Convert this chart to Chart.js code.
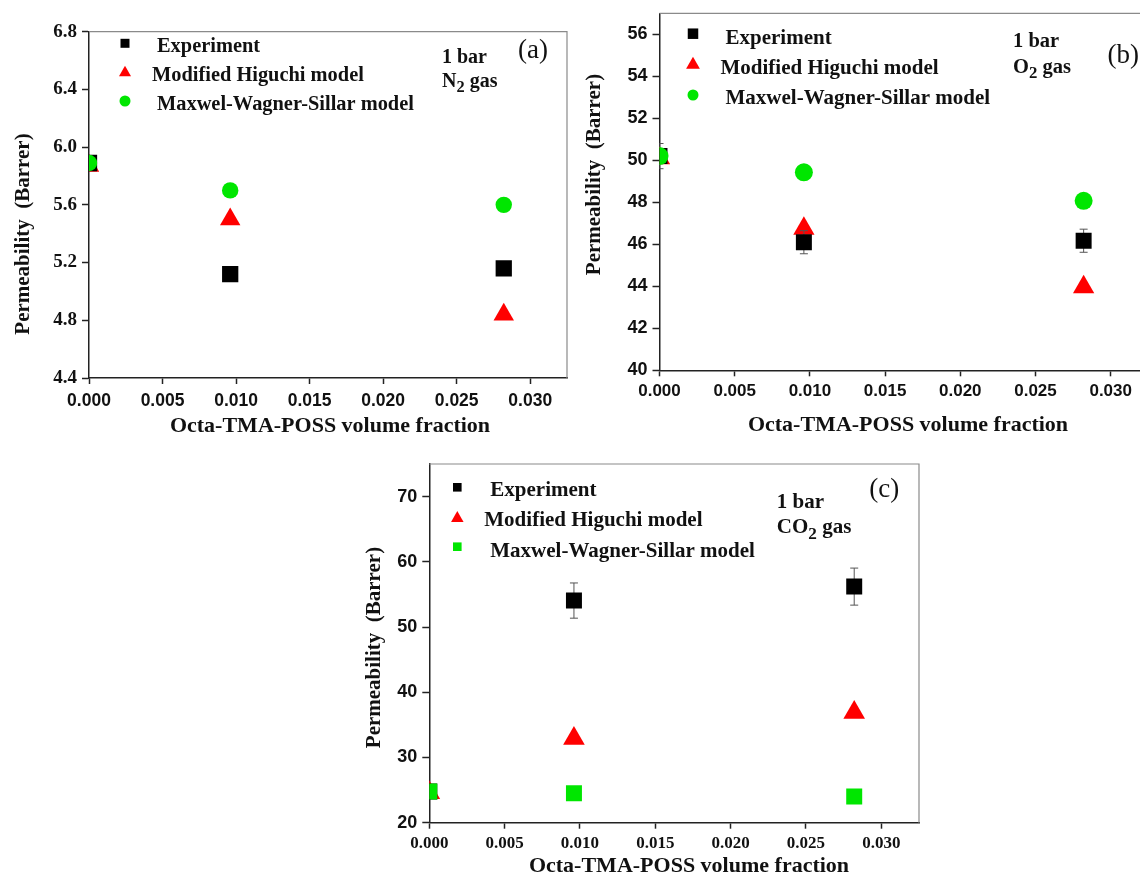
<!DOCTYPE html>
<html>
<head>
<meta charset="utf-8">
<title>Permeability vs Octa-TMA-POSS volume fraction</title>
<script src="https://cdn.jsdelivr.net/npm/chart.js@4.4.1/dist/chart.umd.min.js"></script>
<style>
  html, body { margin: 0; padding: 0; background: #fff; overflow: hidden; }
  #page { position: relative; width: 1140px; height: 876px; overflow: hidden; }
  #page canvas { position: absolute; }
</style>
</head>
<body>
<div id="page">
  <canvas id="chartN2" width="570" height="440" style="left:0;top:0"></canvas>
  <canvas id="chartO2" width="600" height="440" style="left:570px;top:0"></canvas>
  <canvas id="chartCO2" width="600" height="440" style="left:340px;top:436px"></canvas>
</div>
<script>
// Data
const seriesNames = ['Experiment', 'Modified Higuchi model', 'Maxwel-Wagner-Sillar model'];
const volumeFraction = [0, 0.0096, 0.0282];
const xTickValues = [0, 0.005, 0.010, 0.015, 0.020, 0.025, 0.030];

// (a) N2
const n2Experiment = [5.89, 5.12, 5.16];
const n2ExperimentErr = [0.04, 0.04, 0.04];
const n2Higuchi = [5.87, 5.50, 4.84];
const n2Maxwell = [5.89, 5.70, 5.60];
const n2Ticks = [4.4, 4.8, 5.2, 5.6, 6.0, 6.4, 6.8];

// (b) O2
const o2Experiment = [50.2, 46.1, 46.17];
const o2ExperimentErr = [0.6, 0.55, 0.55];
const o2Higuchi = [50.1, 46.75, 43.96];
const o2Maxwell = [50.2, 49.43, 48.07];
const o2Ticks = [40, 42, 44, 46, 48, 50, 52, 54, 56];

// (c) CO2
const co2Experiment = [24.8, 54.06, 56.2];
const co2ExperimentErr = [1.0, 2.7, 2.84];
const co2Higuchi = [24.6, 32.9, 36.9];
const co2Maxwell = [24.8, 24.5, 24.0];
const co2Ticks = [20, 30, 40, 50, 60, 70];

const SERIF = '"Liberation Serif", "Times New Roman", serif';
const SANS = '"Liberation Sans", Arial, sans-serif';
const AXIS_COLOR = '#222';
const FRAME_COLOR = '#8a8a8a';
const ERR_COLOR = '#555';
const COLORS = ['#000000', '#ff0000', '#00e600'];
const DRAW_ORDER = [1, 2, 0]; // green on top, red at the bottom
const TEXT_DY = 2; // canvas 'middle' sits a little above the cap centre

function drawMarker(ctx, style, x, y, size, color) {
  ctx.fillStyle = color;
  ctx.beginPath();
  if (style === 'rect') {
    ctx.rect(x - size / 2, y - size / 2, size, size);
  } else if (style === 'triangle') {
    const h = size * 0.866;
    ctx.moveTo(x, y - h * 2 / 3);
    ctx.lineTo(x + size / 2, y + h / 3);
    ctx.lineTo(x - size / 2, y + h / 3);
    ctx.closePath();
  } else {
    ctx.arc(x, y, size / 2, 0, Math.PI * 2);
  }
  ctx.fill();
}

// Text made of pieces, some of them subscripts (N2, O2, CO2)
function drawRichText(ctx, parts, x, y, size) {
  let cx = x;
  parts.forEach(([txt, sub]) => {
    ctx.font = 'bold ' + (sub ? size * 0.82 : size) + 'px ' + SERIF;
    ctx.fillText(txt, cx, sub ? y + size * 0.3 : y);
    cx += ctx.measureText(txt).width;
  });
}

const panelDecor = {
  id: 'panelDecor',
  beforeDatasetDraw(chart, args) {
    const ds = chart.data.datasets[args.index];
    if (!ds.errorBars) return;
    const { ctx, chartArea: a, scales: { x, y } } = chart;
    ctx.save();
    ctx.beginPath();
    ctx.rect(a.left, a.top, a.right - a.left, a.bottom - a.top);
    ctx.clip();
    ctx.strokeStyle = ERR_COLOR;
    ctx.lineWidth = 1;
    ds.data.forEach((p, i) => {
      const e = ds.errorBars[i];
      const px = x.getPixelForValue(p.x);
      const top = y.getPixelForValue(p.y + e);
      const bot = y.getPixelForValue(p.y - e);
      ctx.beginPath();
      ctx.moveTo(px, top); ctx.lineTo(px, bot);
      ctx.moveTo(px - 4, top); ctx.lineTo(px + 4, top);
      ctx.moveTo(px - 4, bot); ctx.lineTo(px + 4, bot);
      ctx.stroke();
    });
    ctx.restore();
  },
  afterDraw(chart, args, o) {
    const { ctx, chartArea: a } = chart;
    ctx.save();

    // top and right frame lines
    ctx.strokeStyle = FRAME_COLOR;
    ctx.lineWidth = 1.2;
    ctx.beginPath();
    ctx.moveTo(a.left, a.top);
    ctx.lineTo(a.right, a.top);
    ctx.lineTo(a.right, a.bottom);
    ctx.stroke();

    // legend inside the plot
    ctx.textAlign = 'left';
    ctx.textBaseline = 'middle';
    const L = o.legend;
    chart.data.datasets.forEach((ds, i) => {
      drawMarker(ctx, ds.pointStyle, a.left + L.markerX, a.top + L.markerY[i], L.sizes[i], ds.backgroundColor);
      ctx.fillStyle = '#111';
      ctx.font = 'bold ' + L.fontSize + 'px ' + SERIF;
      ctx.fillText(ds.label, a.left + L.textX[i], a.top + L.textY[i] + TEXT_DY);
    });

    // pressure / gas notes
    ctx.fillStyle = '#111';
    o.notes.forEach(n => drawRichText(ctx, n.parts, a.left + n.x, a.top + n.y + TEXT_DY, o.noteSize));

    // panel letter
    ctx.font = '27px ' + SERIF;
    ctx.fillText(o.letter.text, a.left + o.letter.x, a.top + o.letter.y + 1);

    // axis titles
    ctx.textAlign = 'center';
    ctx.font = 'bold 22px ' + SERIF;
    ctx.fillText('Octa-TMA-POSS volume fraction', o.xTitle[0], o.xTitle[1]);
    ctx.translate(o.yTitle[0], o.yTitle[1]);
    ctx.rotate(-Math.PI / 2);
    ctx.font = 'bold 21px ' + SERIF;
    ctx.fillText('Permeability  (Barrer)', 0, 0);
    ctx.restore();
  }
};

function makePanel(p) {
  const datasets = p.series.map((vals, i) => ({
    label: seriesNames[i],
    data: volumeFraction.map((x, j) => ({ x: x, y: vals[j] })),
    pointStyle: p.styles[i],
    pointRadius: p.radii[i],
    pointHoverRadius: p.radii[i],
    backgroundColor: COLORS[i],
    borderColor: COLORS[i],
    pointBorderWidth: 0,
    showLine: false,
    clip: 0,
    order: DRAW_ORDER[i],
    errorBars: i === 0 ? p.errors : null
  }));

  return new Chart(document.getElementById(p.canvas).getContext('2d'), {
    type: 'scatter',
    data: { datasets: datasets },
    options: {
      responsive: false,
      animation: false,
      events: [],
      layout: {
        autoPadding: false,
        padding: { top: p.area.top, right: p.area.right, left: 0, bottom: 0 }
      },
      plugins: {
        legend: { display: false },
        tooltip: { enabled: false },
        panelDecor: p.decor
      },
      scales: {
        x: {
          type: 'linear',
          min: 0,
          max: 0.0325,
          z: 1,
          afterFit: s => { s.height = p.area.xHeight; s.paddingLeft = 0; s.paddingRight = 0; },
          afterBuildTicks: s => { s.ticks = xTickValues.map(v => ({ value: v })); },
          border: { display: true, color: AXIS_COLOR, width: 1.5 },
          grid: { display: true, drawOnChartArea: false, drawTicks: true, tickLength: 6, tickColor: AXIS_COLOR, tickWidth: 1.5 },
          ticks: { color: '#111', padding: p.xPad, maxRotation: 0, autoSkip: false, font: p.xFont, callback: v => v.toFixed(3) }
        },
        y: {
          type: 'linear',
          min: p.yMin,
          max: p.yMax,
          z: 1,
          afterFit: s => { s.width = p.area.left; s.paddingTop = 0; s.paddingBottom = 0; },
          afterBuildTicks: s => { s.ticks = p.yTicks.map(v => ({ value: v })); },
          border: { display: true, color: AXIS_COLOR, width: 1.5 },
          grid: { display: true, drawOnChartArea: false, drawTicks: true, tickLength: 7, tickColor: AXIS_COLOR, tickWidth: 1.5 },
          ticks: { color: '#111', padding: 5, autoSkip: false, font: p.yFont, callback: v => v.toFixed(p.yDecimals) }
        }
      }
    },
    plugins: [panelDecor]
  });
}

makePanel({
  canvas: 'chartN2',
  series: [n2Experiment, n2Higuchi, n2Maxwell],
  errors: n2ExperimentErr,
  yTicks: n2Ticks, yMin: 4.4, yMax: 6.8, yDecimals: 1,
  styles: ['rect', 'triangle', 'circle'],
  radii: [11.5, 11.8, 8.2],
  area: { left: 89, top: 31.7, right: 3, xHeight: 62 },
  xPad: 7,
  xFont: { family: SANS, size: 17.5, weight: 'bold' },
  yFont: { family: SERIF, size: 19, weight: 'bold' },
  decor: {
    legend: { fontSize: 20.4, markerX: 36, markerY: [11.6, 41, 69.3], sizes: [9, 12, 11], textX: [68, 63, 68], textY: [13.5, 42.5, 71.5] },
    noteSize: 20,
    notes: [
      { x: 353, y: 24.3, parts: [['1 bar', 0]] },
      { x: 353, y: 48.3, parts: [['N', 0], ['2', 1], [' gas', 0]] }
    ],
    letter: { text: '(a)', x: 429, y: 18.3 },
    xTitle: [330, 426.7],
    yTitle: [24, 234]
  }
});

makePanel({
  canvas: 'chartO2',
  series: [o2Experiment, o2Higuchi, o2Maxwell],
  errors: o2ExperimentErr,
  yTicks: o2Ticks, yMin: 40, yMax: 57, yDecimals: 0,
  styles: ['rect', 'triangle', 'circle'],
  radii: [11.3, 12.3, 9],
  area: { left: 89.5, top: 13.3, right: 21.7, xHeight: 69.7 },
  xPad: 5,
  xFont: { family: SANS, size: 17, weight: 'bold' },
  yFont: { family: SANS, size: 18, weight: 'bold' },
  decor: {
    legend: { fontSize: 21, markerX: 33.5, markerY: [20.4, 51.5, 81.7], sizes: [10.5, 13.8, 11], textX: [66, 61, 66], textY: [23.5, 53.5, 83.5] },
    noteSize: 20.5,
    notes: [
      { x: 353.5, y: 26, parts: [['1 bar', 0]] },
      { x: 353.5, y: 52.4, parts: [['O', 0], ['2', 1], [' gas', 0]] }
    ],
    letter: { text: '(b)', x: 448, y: 41.7 },
    xTitle: [338, 425],
    yTitle: [25, 174.5]
  }
});

makePanel({
  canvas: 'chartCO2',
  series: [co2Experiment, co2Higuchi, co2Maxwell],
  errors: co2ExperimentErr,
  yTicks: co2Ticks, yMin: 20, yMax: 75, yDecimals: 0,
  styles: ['rect', 'triangle', 'rect'],
  radii: [11.3, 12.5, 11.3],
  area: { left: 89.3, top: 28, right: 21, xHeight: 53.3 },
  xPad: 5,
  xFont: { family: SERIF, size: 17, weight: 'bold' },
  yFont: { family: SANS, size: 18, weight: 'bold' },
  decor: {
    legend: { fontSize: 21, markerX: 28, markerY: [23.3, 54.3, 82.7], sizes: [8.6, 12.5, 8.6], textX: [61, 55, 61], textY: [24.3, 54.3, 85.2] },
    noteSize: 21,
    notes: [
      { x: 347.5, y: 36.7, parts: [['1 bar', 0]] },
      { x: 347.5, y: 62, parts: [['CO', 0], ['2', 1], [' gas', 0]] }
    ],
    letter: { text: '(c)', x: 440, y: 25 },
    xTitle: [349, 430.7],
    yTitle: [34.6, 211.5]
  }
});
</script>
</body>
</html>
